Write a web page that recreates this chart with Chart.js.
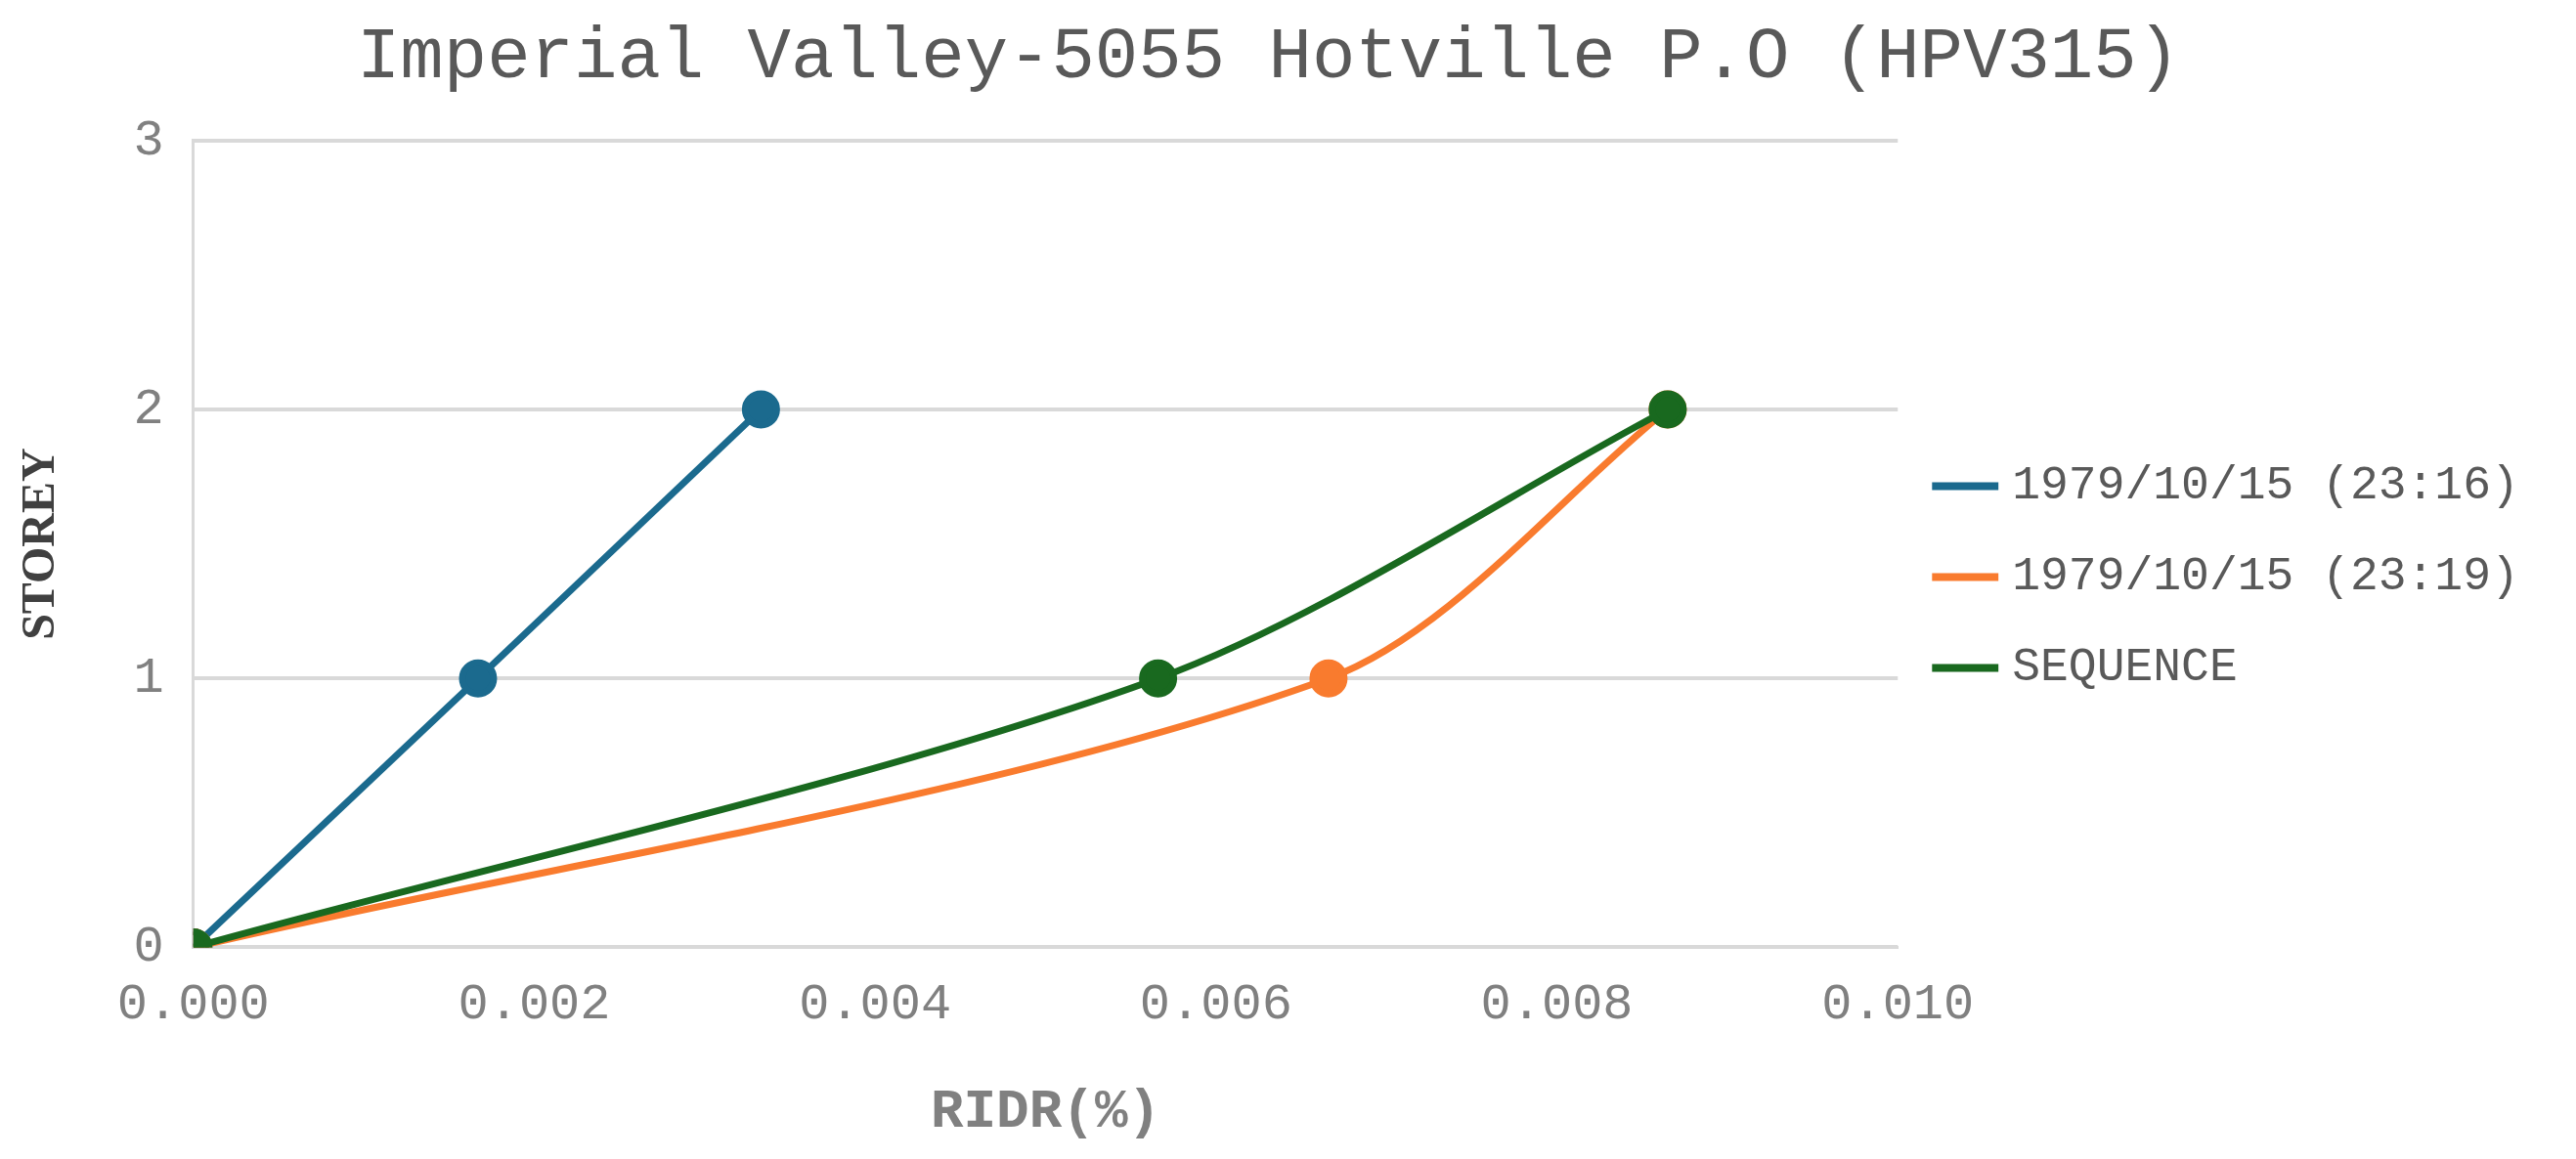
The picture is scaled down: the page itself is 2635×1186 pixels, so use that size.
<!DOCTYPE html>
<html><head><meta charset="utf-8">
<script src="https://cdn.jsdelivr.net/npm/chart.js@4/dist/chart.umd.min.js"></script>
<style>html,body{margin:0;background:#fff}#w{width:2635px;height:1186px}</style>
</head><body><div id="w"><canvas id="c"></canvas></div>
<script>
const storeys = [0, 1, 2];
const ridr2316 = [0, 0.00167, 0.00333];
const ridr2319 = [0, 0.00666, 0.00865];
const ridrSeq = [0, 0.00566, 0.00865];
const seriesNames = ['1979/10/15 (23:16)', '1979/10/15 (23:19)', 'SEQUENCE'];
const colors = ['#1B6A8E', '#F97B2E', '#19691F'];
const mk = (xs) => xs.map((x, i) => ({x, y: storeys[i]}));
const sets = [ridr2316, ridr2319, ridrSeq].map((d, i) => ({
  label: seriesNames[i], data: mk(d), showLine: true, order: 2 - i,
  borderColor: colors[i], backgroundColor: colors[i],
  borderWidth: 7, pointRadius: 16, pointHoverRadius: 16,
  tension: i === 0 ? 0 : 0.3
}));
const gray = '#808080';
new Chart(document.getElementById('c'), {
  type: 'scatter',
  data: {datasets: sets},
  options: {
    responsive: true, maintainAspectRatio: false, animation: false,
    layout: {padding: {left: 10, right: 50, top: 5, bottom: 10}},
    plugins: {
      title: {display: true, text: 'Imperial Valley-5055 Hotville P.O (HPV315)', color: '#595959',
        font: {family: 'Liberation Mono', size: 74, weight: 'normal'}, padding: {top: 10, bottom: 40}},
      legend: {position: 'right', labels: {usePointStyle: true, pointStyle: 'line', boxWidth: 80, padding: 45,
        color: '#595959', font: {family: 'Liberation Mono', size: 48},
        generateLabels: (ch) => ch.data.datasets.map((d, i) => ({text: d.label, strokeStyle: d.borderColor, fillStyle: d.borderColor, lineWidth: 8, pointStyle: 'line', datasetIndex: i, fontColor: '#595959'}))}},
      tooltip: {enabled: false}
    },
    scales: {
      x: {min: 0, max: 0.01, ticks: {stepSize: 0.002, color: gray, font: {family: 'Liberation Mono', size: 52}, padding: 20, callback: v => v.toFixed(3)},
        grid: {display: false}, border: {display: true, color: '#D9D9D9', width: 3},
        title: {display: true, text: 'RIDR(%)', color: gray, font: {family: 'Liberation Mono', size: 56, weight: 'bold'}, padding: {top: 25}}},
      y: {min: 0, max: 3, ticks: {stepSize: 1, color: gray, font: {family: 'Liberation Mono', size: 52}, padding: 30},
        grid: {color: '#D9D9D9', lineWidth: 4, drawTicks: false}, border: {display: true, color: '#D9D9D9', width: 3},
        title: {display: true, text: 'STOREY', color: '#404040', font: {family: 'Liberation Serif', size: 48, weight: 'bold'}, padding: {bottom: 35}}}
    }
  }
});
</script></body></html>
